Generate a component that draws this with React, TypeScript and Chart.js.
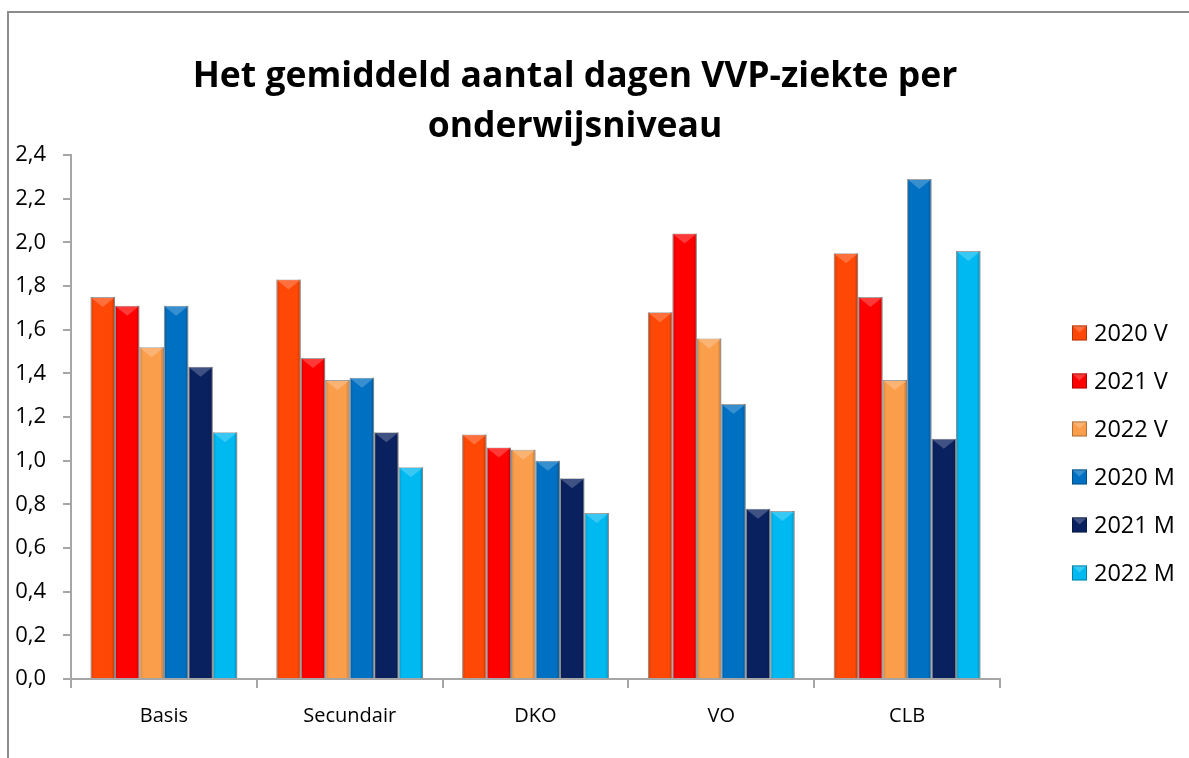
import React, { useEffect, useRef } from "react";
import { Chart, registerables } from "chart.js";

Chart.register(...registerables);

const categories = ["Basis", "Secundair", "DKO", "VO", "CLB"];
const seriesLabels = ["2020 V", "2021 V", "2022 V", "2020 M", "2021 M", "2022 M"];
const seriesColors = ["#FF4805", "#FF0000", "#FA9E4C", "#0070C2", "#0A2160", "#00B9F1"];

const v2020 = [1.75, 1.83, 1.12, 1.68, 1.95];
const v2021 = [1.71, 1.47, 1.06, 2.04, 1.75];
const v2022 = [1.52, 1.37, 1.05, 1.56, 1.37];
const m2020 = [1.71, 1.38, 1.0, 1.26, 2.29];
const m2021 = [1.43, 1.13, 0.92, 0.78, 1.1];
const m2022 = [1.13, 0.97, 0.76, 0.77, 1.96];

const titleLines = ["Het gemiddeld aantal dagen VVP-ziekte per", "onderwijsniveau"];
const yMin = 0;
const yMax = 2.4;
const yStep = 0.2;

const FONT = "'Open Sans', 'DejaVu Sans', sans-serif";

function lighten(hex: string, amt: number): string {
  const n = parseInt(hex.slice(1), 16);
  let r = (n >> 16) & 255, g = (n >> 8) & 255, b = n & 255;
  r = Math.round(r + (255 - r) * amt);
  g = Math.round(g + (255 - g) * amt);
  b = Math.round(b + (255 - b) * amt);
  return `rgb(${r},${g},${b})`;
}

const decorPlugin = {
  id: "decor",
  afterDatasetsDraw(chart: any) {
    const ctx = chart.ctx;
    ctx.save();
    chart.data.datasets.forEach((ds: any, di: number) => {
      const meta = chart.getDatasetMeta(di);
      meta.data.forEach((bar: any) => {
        const { x, y, base, width } = bar;
        const l = x - width / 2;
        const r = x + width / 2;
        const h = base - y;
        if (h <= 0) return;
        let g = ctx.createLinearGradient(l, 0, r, 0);
        g.addColorStop(0, "rgba(0,0,0,0.16)");
        g.addColorStop(0.15, "rgba(0,0,0,0)");
        g.addColorStop(0.85, "rgba(0,0,0,0)");
        g.addColorStop(1, "rgba(0,0,0,0.26)");
        ctx.fillStyle = g;
        ctx.fillRect(l, y, width, h);
        const th = Math.min(10, h);
        ctx.beginPath();
        ctx.moveTo(l + 1, y + 1);
        ctx.lineTo(r - 1, y + 1);
        ctx.lineTo(x, y + th);
        ctx.closePath();
        ctx.fillStyle = lighten(ds.backgroundColor, 0.22);
        ctx.fill();
      });
    });
    ctx.restore();
  },
  afterDraw(chart: any) {
    const ctx = chart.ctx;
    ctx.save();
    ctx.fillStyle = "#000";
    ctx.font = `bold 35.5px ${FONT}`;
    ctx.textAlign = "center";
    ctx.textBaseline = "middle";
    ctx.fillText(titleLines[0], 575, 77);
    ctx.fillText(titleLines[1], 575, 127);
    ctx.font = `23.5px ${FONT}`;
    ctx.textAlign = "left";
    chart.data.datasets.forEach((ds: any, i: number) => {
      const cy = 333 + i * 48;
      const bx = 1072;
      const by = cy - 7.5;
      ctx.fillStyle = ds.backgroundColor;
      ctx.fillRect(bx, by, 15, 15);
      ctx.beginPath();
      ctx.moveTo(bx, by);
      ctx.lineTo(bx + 15, by);
      ctx.lineTo(bx + 7.5, by + 7);
      ctx.closePath();
      ctx.fillStyle = lighten(ds.backgroundColor, 0.22);
      ctx.fill();
      ctx.strokeStyle = "rgba(0,0,0,0.3)";
      ctx.lineWidth = 1;
      ctx.strokeRect(bx + 0.5, by + 0.5, 14, 14);
      ctx.fillStyle = "#000";
      ctx.fillText(ds.label, 1094, cy + 1);
    });
    ctx.restore();
  },
};

export default function App() {
  const ref = useRef<HTMLCanvasElement | null>(null);
  useEffect(() => {
    if (!ref.current) return;
    const series = [v2020, v2021, v2022, m2020, m2021, m2022];
    const chart = new Chart(ref.current, {
      type: "bar",
      data: {
        labels: categories,
        datasets: series.map((d, i) => ({
          label: seriesLabels[i],
          data: d,
          backgroundColor: seriesColors[i],
          borderColor: "rgba(90,90,90,0.55)",
          borderWidth: 1,
          categoryPercentage: 0.79,
          barPercentage: 1.0,
        })),
      },
      options: {
        responsive: false,
        animation: false,
        layout: { padding: { left: 0, right: 189, top: 155, bottom: 0 } },
        plugins: {
          legend: { display: false },
          title: { display: false },
          tooltip: { enabled: false },
        },
        scales: {
          x: {
            offset: true,
            grid: { display: true, drawOnChartArea: false, drawTicks: true, tickLength: 9, color: "#A6A6A6", lineWidth: 2 },
            border: { display: true, color: "#A6A6A6", width: 2 },
            ticks: { color: "#000", font: { family: FONT, size: 20 }, padding: 16 },
            afterFit: (s: any) => { s.height = 79; },
          },
          y: {
            min: yMin,
            max: yMax,
            grid: { display: true, drawOnChartArea: false, drawTicks: true, tickLength: 8, color: "#A6A6A6", lineWidth: 2 },
            border: { display: true, color: "#A6A6A6", width: 2 },
            ticks: {
              stepSize: yStep,
              color: "#000",
              padding: 17,
              font: { family: FONT, size: 22 },
              callback: (v: any) => Number(v).toFixed(1).replace(".", ","),
            },
            afterFit: (s: any) => { s.width = 71; },
          },
        },
      },
      plugins: [decorPlugin],
    });
    return () => chart.destroy();
  }, []);
  return (
    <div style={{ position: "fixed", left: 0, top: 0, width: 1189, height: 758, overflow: "hidden", background: "#fff" }}>
      <div style={{ position: "absolute", left: 7, top: 11, width: 2000, height: 2000, border: "2px solid #8C8C8C" }} />
      <canvas ref={ref} width={1189} height={758} style={{ position: "absolute", left: 0, top: 0, width: 1189, height: 758 }} />
    </div>
  );
}
